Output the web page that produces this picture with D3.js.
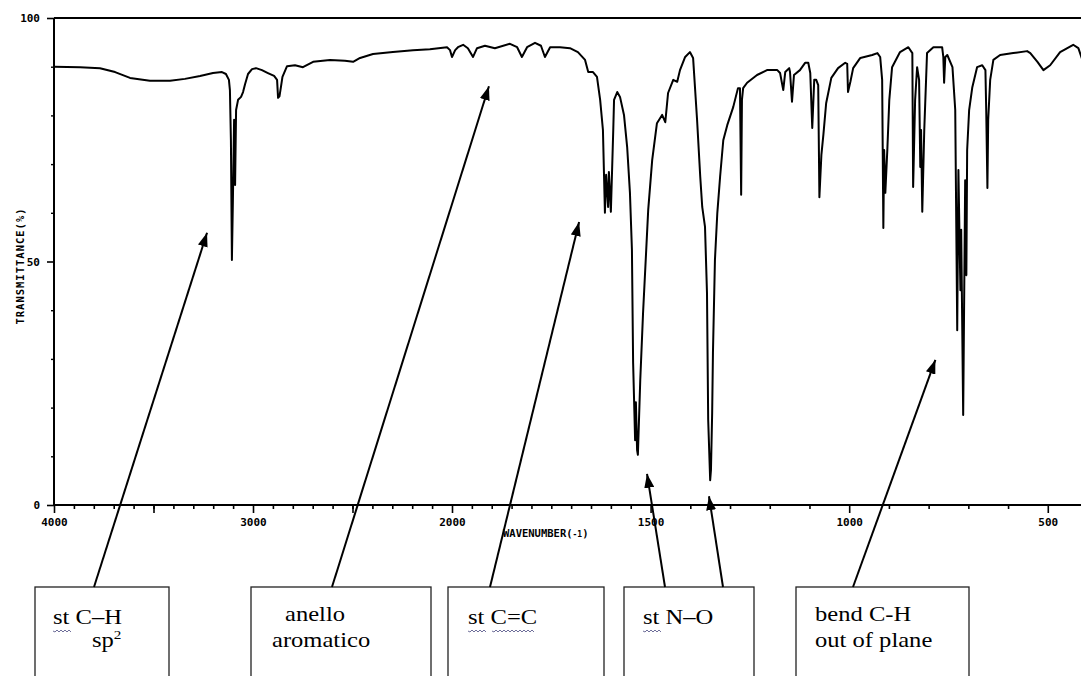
<!DOCTYPE html>
<html>
<head>
<meta charset="utf-8">
<script src="https://cdn.jsdelivr.net/npm/d3@7/dist/d3.min.js"></script>
<style>
  body { margin: 0; background: #fff; }
  .axis-text { font-family: "DejaVu Sans Mono", monospace; font-weight: bold; fill: #000; }
  .note { font-family: "Liberation Serif", "Times New Roman", serif; font-size: 21px; fill: #000; }
</style>
</head>
<body>
<div id="chart"></div>
<script>
// IR spectrum (wavenumber in cm-1, transmittance in %)
var wavenumber = [4000, 3869, 3769, 3693, 3618, 3518, 3417, 3342, 3266, 3201, 3156, 3136, 3121, 3116, 3111, 3106, 3101, 3095, 3090, 3085,
  3075, 3060, 3050, 3040, 3025, 3005, 2985, 2955, 2925, 2894, 2879, 2874, 2867, 2859, 2852, 2829, 2789, 2749, 2698, 2613,
  2538, 2497, 2462, 2397, 2297, 2196, 2111, 2025, 2010, 2000, 1992, 1985, 1972, 1960, 1947, 1937, 1917, 1892, 1854, 1836,
  1824, 1811, 1791, 1776, 1766, 1753, 1728, 1703, 1683, 1665, 1657, 1645, 1635, 1627, 1620, 1615, 1612, 1607, 1605, 1600,
  1594, 1592, 1584, 1577, 1567, 1559, 1552, 1547, 1544, 1539, 1537, 1534, 1532, 1526, 1519, 1511, 1506, 1496, 1484, 1471,
  1463, 1456, 1443, 1433, 1426, 1413, 1401, 1393, 1383, 1375, 1370, 1363, 1358, 1355, 1350, 1348, 1345, 1343, 1338, 1332,
  1325, 1317, 1307, 1292, 1280, 1275, 1272, 1270, 1267, 1257, 1232, 1207, 1181, 1174, 1166, 1161, 1151, 1149, 1144, 1139,
  1124, 1111, 1103, 1098, 1093, 1088, 1083, 1078, 1075, 1070, 1065, 1058, 1045, 1028, 1010, 1005, 1003, 997, 990, 972,
  942, 929, 922, 917, 914, 912, 909, 904, 899, 892, 872, 851, 841, 839, 834, 829, 824, 821, 819, 816,
  811, 804, 788, 766, 763, 761, 758, 753, 740, 733, 728, 725, 720, 718, 713, 708, 705, 703, 698, 690,
  678, 665, 657, 655, 652, 650, 645, 637, 620, 587, 552, 544, 526, 511, 494, 469, 436, 423, 413];

var transmittance = [90.0, 89.9, 89.7, 88.9, 87.7, 87.1, 87.1, 87.5, 88.1, 88.7, 88.9, 88.5, 87.3, 85.2, 74.9, 50.3, 62.6, 79.1, 65.7, 81.1,
  83.2, 83.8, 84.8, 86.4, 88.5, 89.5, 89.7, 89.3, 88.7, 88.1, 87.3, 83.6, 83.9, 86.0, 87.9, 90.1, 90.3, 89.9, 91.0, 91.4,
  91.2, 91.0, 91.8, 92.6, 93.0, 93.4, 93.6, 94.0, 93.4, 92.0, 93.4, 94.0, 94.5, 93.8, 92.0, 93.8, 94.3, 93.8, 94.7, 94.0,
  92.0, 94.0, 94.9, 94.3, 92.0, 94.0, 94.0, 93.8, 93.0, 91.4, 88.9, 88.9, 87.9, 83.2, 77.0, 60.0, 67.8, 61.2, 68.4, 60.2,
  77.0, 83.2, 84.8, 83.8, 80.1, 73.5, 64.1, 52.4, 29.2, 13.3, 21.1, 11.3, 10.3, 25.7, 39.4, 52.4, 60.6, 70.8, 78.4, 80.1,
  78.6, 84.6, 87.3, 86.9, 89.3, 92.0, 93.0, 91.8, 79.1, 67.4, 61.2, 57.1, 43.5, 17.5, 5.1, 7.2, 18.9, 31.2, 50.3, 60.0,
  67.4, 74.9, 78.0, 81.7, 85.6, 85.6, 63.7, 83.2, 85.6, 86.7, 88.3, 89.3, 89.3, 88.7, 85.2, 88.9, 89.7, 88.9, 82.8, 88.3,
  89.3, 90.8, 90.8, 88.7, 77.4, 87.3, 87.3, 86.2, 63.2, 71.9, 76.0, 82.5, 87.7, 89.7, 90.8, 90.6, 84.8, 86.9, 89.7, 91.8,
  92.4, 92.8, 92.0, 87.3, 56.9, 72.9, 64.1, 72.9, 83.2, 89.9, 93.0, 94.0, 92.8, 65.3, 83.2, 89.9, 87.3, 69.4, 77.0, 60.2,
  77.0, 92.8, 94.0, 94.0, 92.0, 86.7, 92.0, 92.4, 89.9, 81.1, 35.9, 68.8, 44.1, 56.5, 18.5, 66.7, 47.2, 72.9, 81.1, 85.8,
  89.9, 90.3, 89.3, 81.1, 65.1, 79.1, 87.3, 91.4, 92.4, 92.8, 93.2, 92.8, 91.0, 89.3, 90.3, 93.0, 94.5, 93.8, 91.4];

var xTickLabels = [4000, 3000, 2000, 1500, 1000, 500];
var yTickLabels = [0, 50, 100];

// annotation boxes: text lines, box extent, arrow tips in data units
var notes = [
  { box: [35, 169], tails: [94], tips: [[3231, 55.9]] },
  { box: [251, 431], tails: [332], tips: [[1907, 86.0]] },
  { box: [448, 604], tails: [490], tips: [[1680, 58.1]] },
  { box: [624, 754], tails: [665, 723], tips: [[1509, 6.4], [1353, 1.8]] },
  { box: [796, 969], tails: [853], tips: [[783, 29.8]] }
];

var width = 1081, height = 676;
var plotLeft = 54, plotTop = 18, plotBottom = 505;

var svg = d3.select("#chart").append("svg")
  .attr("width", width)
  .attr("height", height);

/* Scales: the wavenumber axis doubles its scale at 2000 */
var x = d3.scaleLinear()
  .domain([4000, 2000, 400])
  .range([plotLeft, 452, 1087.5]);

var y = d3.scaleLinear()
  .domain([0, 100])
  .range([plotBottom, plotTop]);

/* Axes */
var minorX = d3.range(3900, 2000, -100)
  .concat(d3.range(1950, 1500, -50))
  .concat(d3.range(1400, 400, -100))
  .filter(d => xTickLabels.indexOf(d) < 0);

svg.append("g")
  .attr("transform", `translate(0, ${plotBottom})`)
  .call(d3.axisBottom(x).tickValues(minorX).tickSize(4).tickFormat(""))
  .call(g => g.select(".domain").remove())
  .call(g => g.selectAll("line").attr("stroke", "#000").attr("stroke-width", 1.6));

svg.append("g")
  .attr("transform", `translate(0, ${plotBottom})`)
  .call(d3.axisBottom(x).tickValues(xTickLabels.concat([3500, 2500])).tickSize(8).tickPadding(5)
    .tickFormat(d => xTickLabels.indexOf(d) >= 0 ? d : ""))
  .call(g => g.select(".domain").remove())
  .call(g => g.selectAll("line").attr("stroke", "#000").attr("stroke-width", 1.6))
  .call(g => g.selectAll("text").attr("class", "axis-text").style("font-size", "11px"));

svg.append("g")
  .attr("transform", `translate(${plotLeft}, 0)`)
  .call(d3.axisLeft(y).tickValues(d3.range(10, 100, 10).filter(d => d !== 50)).tickSize(3).tickFormat(""))
  .call(g => g.select(".domain").remove())
  .call(g => g.selectAll("line").attr("stroke", "#000").attr("stroke-width", 1.4));

svg.append("g")
  .attr("transform", `translate(${plotLeft}, 0)`)
  .call(d3.axisLeft(y).tickValues(yTickLabels).tickSize(7).tickPadding(7))
  .call(g => g.select(".domain").remove())
  .call(g => g.selectAll("line").attr("stroke", "#000").attr("stroke-width", 1.6))
  .call(g => g.selectAll("text").attr("class", "axis-text").style("font-size", "11px"));

// frame lines
svg.append("line")
  .attr("x1", plotLeft).attr("x2", width)
  .attr("y1", y(0)).attr("y2", y(0))
  .attr("stroke", "#000").attr("stroke-width", 2);
svg.append("line")
  .attr("x1", plotLeft).attr("x2", width)
  .attr("y1", y(100)).attr("y2", y(100))
  .attr("stroke", "#000").attr("stroke-width", 2);
svg.append("line")
  .attr("x1", plotLeft).attr("x2", plotLeft)
  .attr("y1", y(100)).attr("y2", y(0))
  .attr("stroke", "#000").attr("stroke-width", 2);

// axis titles
var xTitle = svg.append("text")
  .attr("class", "axis-text")
  .style("font-size", "10.5px")
  .attr("x", 503).attr("y", 537);
xTitle.append("tspan").text("WAVENUMBER(");
xTitle.append("tspan").style("font-size", "8px").text("-1");
xTitle.append("tspan").text(")");

svg.append("text")
  .attr("class", "axis-text")
  .style("font-size", "10.5px")
  .attr("transform", "translate(20, 266) rotate(-90)")
  .attr("text-anchor", "middle")
  .attr("dy", "0.35em")
  .attr("letter-spacing", "1px")
  .text("TRANSMITTANCE(%)");

/* Spectrum */
var points = wavenumber.map((w, i) => ({ w: w, t: transmittance[i] }));

var line = d3.line()
  .x(d => x(d.w))
  .y(d => y(d.t));

svg.append("path")
  .datum(points)
  .attr("fill", "none")
  .attr("stroke", "#000")
  .attr("stroke-width", 2)
  .attr("stroke-linejoin", "round")
  .attr("d", line);

/* Annotations */
svg.append("defs").append("marker")
  .attr("id", "head")
  .attr("viewBox", "0 0 14 10")
  .attr("refX", 14).attr("refY", 5)
  .attr("markerWidth", 14).attr("markerHeight", 10)
  .attr("markerUnits", "userSpaceOnUse")
  .attr("orient", "auto")
  .append("path")
  .attr("d", "M0,0 L14,5 L0,10 Z")
  .attr("fill", "#000");

var boxTop = 587;
var xScaleText = 1.17;

notes.forEach(function(n) {
  svg.append("rect")
    .attr("x", n.box[0]).attr("y", boxTop)
    .attr("width", n.box[1] - n.box[0]).attr("height", 120)
    .attr("fill", "none").attr("stroke", "#222").attr("stroke-width", 1.3);

  n.tips.forEach(function(tip, i) {
    svg.append("line")
      .attr("x1", n.tails[i]).attr("y1", boxTop)
      .attr("x2", x(tip[0])).attr("y2", y(tip[1]))
      .attr("stroke", "#000").attr("stroke-width", 2)
      .attr("marker-end", "url(#head)");
  });
});

function note(str, px, py) {
  return svg.append("text")
    .attr("class", "note")
    .attr("transform", `translate(${px}, ${py}) scale(${xScaleText}, 1)`)
    .text(str);
}

function squiggle(x0, x1, yy) {
  var d = "M" + x0 + "," + yy;
  for (var xx = x0, k = 0; xx < x1; xx += 2, k++) {
    d += " L" + (xx + 2) + "," + (yy + (k % 2 ? -1 : 1));
  }
  svg.append("path").attr("d", d).attr("fill", "none")
    .attr("stroke", "#6f6f9a").attr("stroke-width", 1);
}

note("st C\u2013H", 53, 624);
var sp = note("", 92, 647);
sp.append("tspan").text("sp");
sp.append("tspan").attr("dy", -8).style("font-size", "13px").text("2");
note("anello", 285, 621);
note("aromatico", 272, 647);
note("st C=C", 468, 624);
note("st N\u2013O", 643, 624);
note("bend C-H", 815, 621);
note("out of plane", 815, 647);

squiggle(53, 70, 631);
squiggle(468, 485, 631);
squiggle(492, 534, 631);
squiggle(643, 660, 631);
</script>
</body>
</html>
